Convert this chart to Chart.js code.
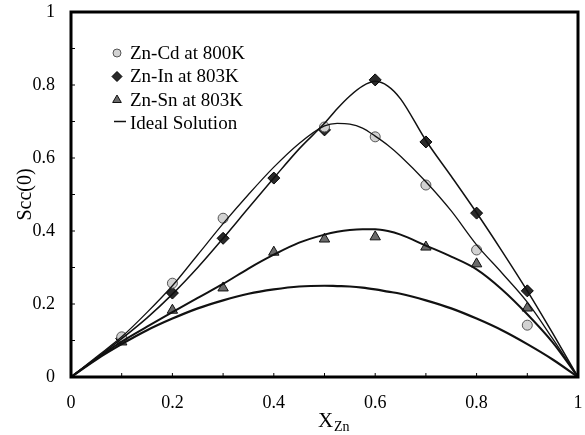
<!DOCTYPE html>
<html>
<head>
<meta charset="utf-8">
<script src="https://cdn.jsdelivr.net/npm/chart.js@4.4.1/dist/chart.umd.min.js"></script>
<style>
  html, body { margin: 0; padding: 0; background: #fff; }
  #wrap { width: 585px; height: 435px; }
</style>
</head>
<body>
<div id="wrap"><canvas id="plot" width="585" height="435"></canvas></div>
<script>
// measured Scc(0) points
const xMeasured = [0.1, 0.2, 0.3, 0.4, 0.5, 0.6, 0.7, 0.8, 0.9];
const znCdPoints = [0.11, 0.257, 0.435, null, 0.685, 0.658, 0.526, 0.348, 0.142];
const znInPoints = [0.105, 0.23, 0.38, 0.545, 0.677, 0.814, 0.644, 0.449, 0.236];
const znSnPoints = [0.096, 0.183, 0.244, 0.342, 0.378, 0.384, 0.356, 0.31, 0.189];

// calculated curves
const xCurve = [0, 0.05, 0.1, 0.15, 0.2, 0.25, 0.3, 0.35, 0.4, 0.45, 0.5, 0.525, 0.55, 0.575, 0.6, 0.625, 0.65, 0.7, 0.75, 0.8, 0.85, 0.9, 0.95, 1];
const znCdCurve = [0, 0.055, 0.11, 0.177, 0.25, 0.335, 0.42, 0.5, 0.575, 0.64, 0.688, 0.695, 0.693, 0.682, 0.66, 0.635, 0.605, 0.535, 0.455, 0.362, 0.285, 0.205, 0.105, 0];
const znInCurve = [0, 0.052, 0.105, 0.162, 0.227, 0.3, 0.38, 0.463, 0.545, 0.625, 0.695, 0.735, 0.77, 0.797, 0.81, 0.797, 0.762, 0.648, 0.55, 0.45, 0.345, 0.236, 0.12, 0];
const znSnCurve = [0, 0.05, 0.097, 0.138, 0.178, 0.217, 0.255, 0.297, 0.335, 0.368, 0.39, 0.398, 0.403, 0.405, 0.405, 0.4, 0.39, 0.36, 0.33, 0.295, 0.24, 0.172, 0.095, 0];
const idealCurve = [0, 0.048, 0.09, 0.128, 0.16, 0.188, 0.21, 0.228, 0.24, 0.248, 0.25, 0.249, 0.248, 0.245, 0.24, 0.234, 0.228, 0.21, 0.188, 0.16, 0.128, 0.09, 0.048, 0];

const xTicks = [0, 0.2, 0.4, 0.6, 0.8, 1];
const minorTicks = [0.1, 0.2, 0.3, 0.4, 0.5, 0.6, 0.7, 0.8, 0.9];

const serif = "'Liberation Serif', 'Times New Roman', serif";

const toXY = (xs, ys) => xs.map((x, i) => ({ x: x, y: ys[i] })).filter((p) => p.y !== null);
const tickText = (v) => String(Number(v.toFixed(1)));

const curve = (label, ys, width) => ({
  type: "line",
  label: label,
  data: toXY(xCurve, ys),
  borderColor: "#111",
  borderWidth: width,
  pointRadius: 0,
  showLine: true,
  fill: false,
  cubicInterpolationMode: "monotone",
});

const data = {
  datasets: [
    curve("Zn-Cd calc", znCdCurve, 1.3),
    curve("Zn-In calc", znInCurve, 1.5),
    curve("Zn-Sn calc", znSnCurve, 2),
    curve("Ideal Solution", idealCurve, 2.2),
    {
      label: "Zn-Cd at 800K",
      data: toXY(xMeasured, znCdPoints),
      pointStyle: "circle",
      pointRadius: 5,
      backgroundColor: "#d2d2d2",
      borderColor: "#555",
      borderWidth: 1,
      showLine: false,
      legendRadius: 4,
    },
    {
      label: "Zn-In at 803K",
      data: toXY(xMeasured, znInPoints),
      pointStyle: "rectRot",
      pointRadius: 6,
      backgroundColor: "#2a2a2a",
      borderColor: "#000",
      borderWidth: 1,
      showLine: false,
      legendRadius: 5,
    },
    {
      label: "Zn-Sn at 803K",
      data: toXY(xMeasured, znSnPoints),
      pointStyle: "triangle",
      pointRadius: 6,
      backgroundColor: "#6a6a6a",
      borderColor: "#111",
      borderWidth: 1,
      showLine: false,
      legendRadius: 5,
    },
  ],
};

// legend drawn inside the plot, upper left
const innerLegend = {
  id: "innerLegend",
  afterDraw(chart) {
    const ctx = chart.ctx;
    const order = ["Zn-Cd at 800K", "Zn-In at 803K", "Zn-Sn at 803K", "Ideal Solution"];
    ctx.save();
    ctx.font = "19px " + serif;
    ctx.textBaseline = "middle";
    order.forEach((name, i) => {
      const ds = chart.data.datasets.find((d) => d.label === name);
      const y = 53 + i * 23.5;
      if (ds.type === "line") {
        ctx.strokeStyle = "#111";
        ctx.lineWidth = 1.5;
        ctx.beginPath();
        ctx.moveTo(114, y - 2);
        ctx.lineTo(126, y - 2);
        ctx.stroke();
      } else {
        ctx.fillStyle = ds.backgroundColor;
        ctx.strokeStyle = ds.borderColor;
        ctx.lineWidth = 1;
        Chart.helpers.drawPoint(ctx, { pointStyle: ds.pointStyle, radius: ds.legendRadius, rotation: 0, borderWidth: 1 }, 117, y);
      }
      ctx.fillStyle = "#000";
      ctx.fillText(name, 130, y + 1);
    });
    ctx.restore();
  },
};

// frame, inward minor ticks and the subscripted x title
const frame = {
  id: "frame",
  afterDraw(chart) {
    const { ctx, chartArea: a, scales } = chart;
    ctx.save();
    ctx.strokeStyle = "#000";
    ctx.lineWidth = 1;
    minorTicks.forEach((v) => {
      const px = scales.x.getPixelForValue(v);
      ctx.beginPath();
      ctx.moveTo(px, a.bottom);
      ctx.lineTo(px, a.bottom - 4);
      ctx.stroke();
      const py = scales.y.getPixelForValue(v);
      ctx.beginPath();
      ctx.moveTo(a.left, py);
      ctx.lineTo(a.left + 4, py);
      ctx.stroke();
    });
    ctx.lineWidth = 3;
    ctx.strokeRect(a.left, a.top, a.right - a.left, a.bottom - a.top);

    ctx.fillStyle = "#000";
    ctx.textBaseline = "alphabetic";
    ctx.font = "21px " + serif;
    ctx.fillText("X", 318, 427);
    ctx.font = "14px " + serif;
    ctx.fillText("Zn", 334, 431);
    ctx.restore();
  },
};

const config = {
  type: "scatter",
  data: data,
  options: {
    responsive: false,
    animation: false,
    layout: { padding: { left: 0, right: 3, top: 12, bottom: 0 } },
    plugins: {
      legend: { display: false },
      tooltip: { enabled: false },
    },
    scales: {
      x: {
        type: "linear",
        min: 0,
        max: 1,
        afterFit: (scale) => {
          scale.height = 58;
          scale.paddingLeft = 0;
          scale.paddingRight = 0;
        },
        afterBuildTicks: (scale) => { scale.ticks = xTicks.map((v) => ({ value: v })); },
        grid: { display: false },
        border: { display: false },
        ticks: {
          color: "#000",
          padding: 7,
          maxRotation: 0,
          font: { family: serif, size: 18 },
          callback: tickText,
        },
      },
      y: {
        type: "linear",
        min: 0,
        max: 1,
        afterFit: (scale) => {
          scale.width = 71;
          scale.paddingTop = 0;
          scale.paddingBottom = 0;
        },
        grid: { display: false },
        border: { display: false },
        title: {
          display: true,
          text: "Scc(0)",
          color: "#000",
          font: { family: serif, size: 20 },
          padding: { top: 14, bottom: 0 },
        },
        ticks: {
          stepSize: 0.2,
          color: "#000",
          padding: 8,
          font: { family: serif, size: 18 },
          callback: tickText,
        },
      },
    },
  },
  plugins: [innerLegend, frame],
};

const plot = new Chart(document.getElementById("plot"), config);
</script>
</body>
</html>
